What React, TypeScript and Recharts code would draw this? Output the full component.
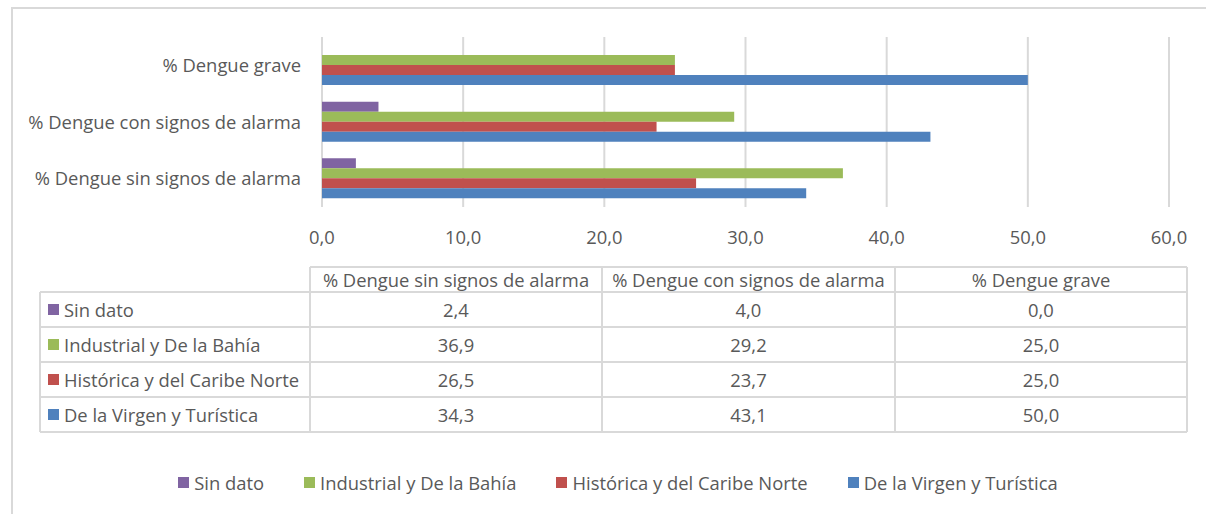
import React from 'react';
import { BarChart, Bar, XAxis, YAxis, CartesianGrid } from 'recharts';

// Categories in table order (Excel draws the first category at the bottom)
const categories = [
  '% Dengue sin signos de alarma',
  '% Dengue con signos de alarma',
  '% Dengue grave',
];
const seriesNames = [
  'Sin dato',
  'Industrial y De la Bahía',
  'Histórica y del Caribe Norte',
  'De la Virgen y Turística',
];
const seriesColors = ['#8064A2', '#9BBB59', '#C0504D', '#4F81BD'];
const sinDato = [2.4, 4.0, 0.0];
const industrial = [36.9, 29.2, 25.0];
const historica = [26.5, 23.7, 25.0];
const virgen = [34.3, 43.1, 50.0];
const seriesValues = [sinDato, industrial, historica, virgen];
const xTicks = [0, 10, 20, 30, 40, 50, 60];

const keys = ['s0', 's1', 's2', 's3'];
const data = categories.map((c, i) => {
  const row: Record<string, any> = { name: c };
  seriesValues.forEach((vals, k) => {
    row[keys[k]] = vals[i];
  });
  return row;
});

const fmt = (v: number) => v.toFixed(1).replace('.', ',');

const FONT = '"Open Sans", sans-serif';
const FS = 18.4;
const TEXT = '#595959';
const GRID = '#D9D9D9';

// table geometry
const colX = [40, 310, 602, 895, 1187];
const rowY = [267, 292, 327, 362, 397, 432];

export default function App() {
  return (
    <div
      style={{
        position: 'absolute',
        left: 0,
        top: 0,
        width: 1206,
        height: 514,
        background: '#fff',
        overflow: 'hidden',
        fontFamily: FONT,
      }}
    >
      <div
        style={{
          position: 'absolute',
          left: 11,
          top: 7,
          width: 1300,
          height: 600,
          borderLeft: `2px solid ${GRID}`,
          borderTop: `2px solid ${GRID}`,
        }}
      />
      <div style={{ position: 'absolute', left: 0, top: 0 }}>
        <BarChart
          width={1206}
          height={257}
          data={data}
          layout="vertical"
          margin={{ top: 37, right: 37, bottom: 0, left: 0 }}
          barSize={10}
          barGap={0}
        >
          <CartesianGrid horizontal={false} stroke={GRID} strokeWidth={2} />
          <XAxis
            type="number"
            domain={[0, 60]}
            ticks={xTicks}
            tickFormatter={fmt}
            axisLine={false}
            tickLine={false}
            tickMargin={18}
            height={50}
            interval={0}
            tick={{ fill: TEXT, fontSize: FS, fontFamily: FONT }}
          />
          <YAxis
            type="category"
            dataKey="name"
            reversed
            width={322}
            axisLine={false}
            tickLine={false}
            tickMargin={15}
            interval={0}
            tick={{ fill: TEXT, fontSize: FS, fontFamily: FONT }}
          />
          {keys.map((k, i) => (
            <Bar key={k} dataKey={k} name={seriesNames[i]} fill={seriesColors[i]} isAnimationActive={false} />
          ))}
        </BarChart>
      </div>
      <svg
        width={1206}
        height={514}
        style={{ position: 'absolute', left: 0, top: 0, pointerEvents: 'none' }}
        fontFamily={FONT}
        fontSize={FS}
      >
        {rowY.map((y, i) => (
          <line
            key={'h' + i}
            x1={i === 0 ? colX[1] : colX[0]}
            x2={colX[4]}
            y1={y}
            y2={y}
            stroke={GRID}
            strokeWidth={2}
          />
        ))}
        {colX.map((x, i) => (
          <line
            key={'v' + i}
            x1={x}
            x2={x}
            y1={i === 0 ? rowY[1] : rowY[0]}
            y2={rowY[5]}
            stroke={GRID}
            strokeWidth={2}
          />
        ))}
        {categories.map((c, j) => (
          <text
            key={'hd' + j}
            x={(colX[j + 1] + colX[j + 2]) / 2}
            y={(rowY[0] + rowY[1]) / 2}
            textAnchor="middle"
            dominantBaseline="central"
            fill={TEXT}
          >
            {c}
          </text>
        ))}
        {seriesNames.map((s, i) => {
          const cy = (rowY[i + 1] + rowY[i + 2]) / 2;
          return (
            <g key={'r' + i}>
              <rect x={48} y={cy - 5.5} width={11} height={11} fill={seriesColors[i]} />
              <text x={64} y={cy} dominantBaseline="central" fill={TEXT}>
                {s}
              </text>
              {seriesValues[i].map((v, j) => (
                <text
                  key={j}
                  x={(colX[j + 1] + colX[j + 2]) / 2}
                  y={cy}
                  textAnchor="middle"
                  dominantBaseline="central"
                  fill={TEXT}
                >
                  {fmt(v)}
                </text>
              ))}
            </g>
          );
        })}
      </svg>
      <div
        style={{
          position: 'absolute',
          left: 0,
          width: 1236,
          top: 469,
          height: 26,
          display: 'flex',
          justifyContent: 'center',
          alignItems: 'center',
          gap: 40,
          fontSize: FS,
          color: TEXT,
        }}
      >
        {seriesNames.map((s, i) => (
          <div key={s} style={{ display: 'flex', alignItems: 'center' }}>
            <span
              style={{
                display: 'inline-block',
                width: 11,
                height: 11,
                background: seriesColors[i],
                marginRight: 5,
              }}
            />
            <span style={{ whiteSpace: 'nowrap' }}>{s}</span>
          </div>
        ))}
      </div>
    </div>
  );
}
